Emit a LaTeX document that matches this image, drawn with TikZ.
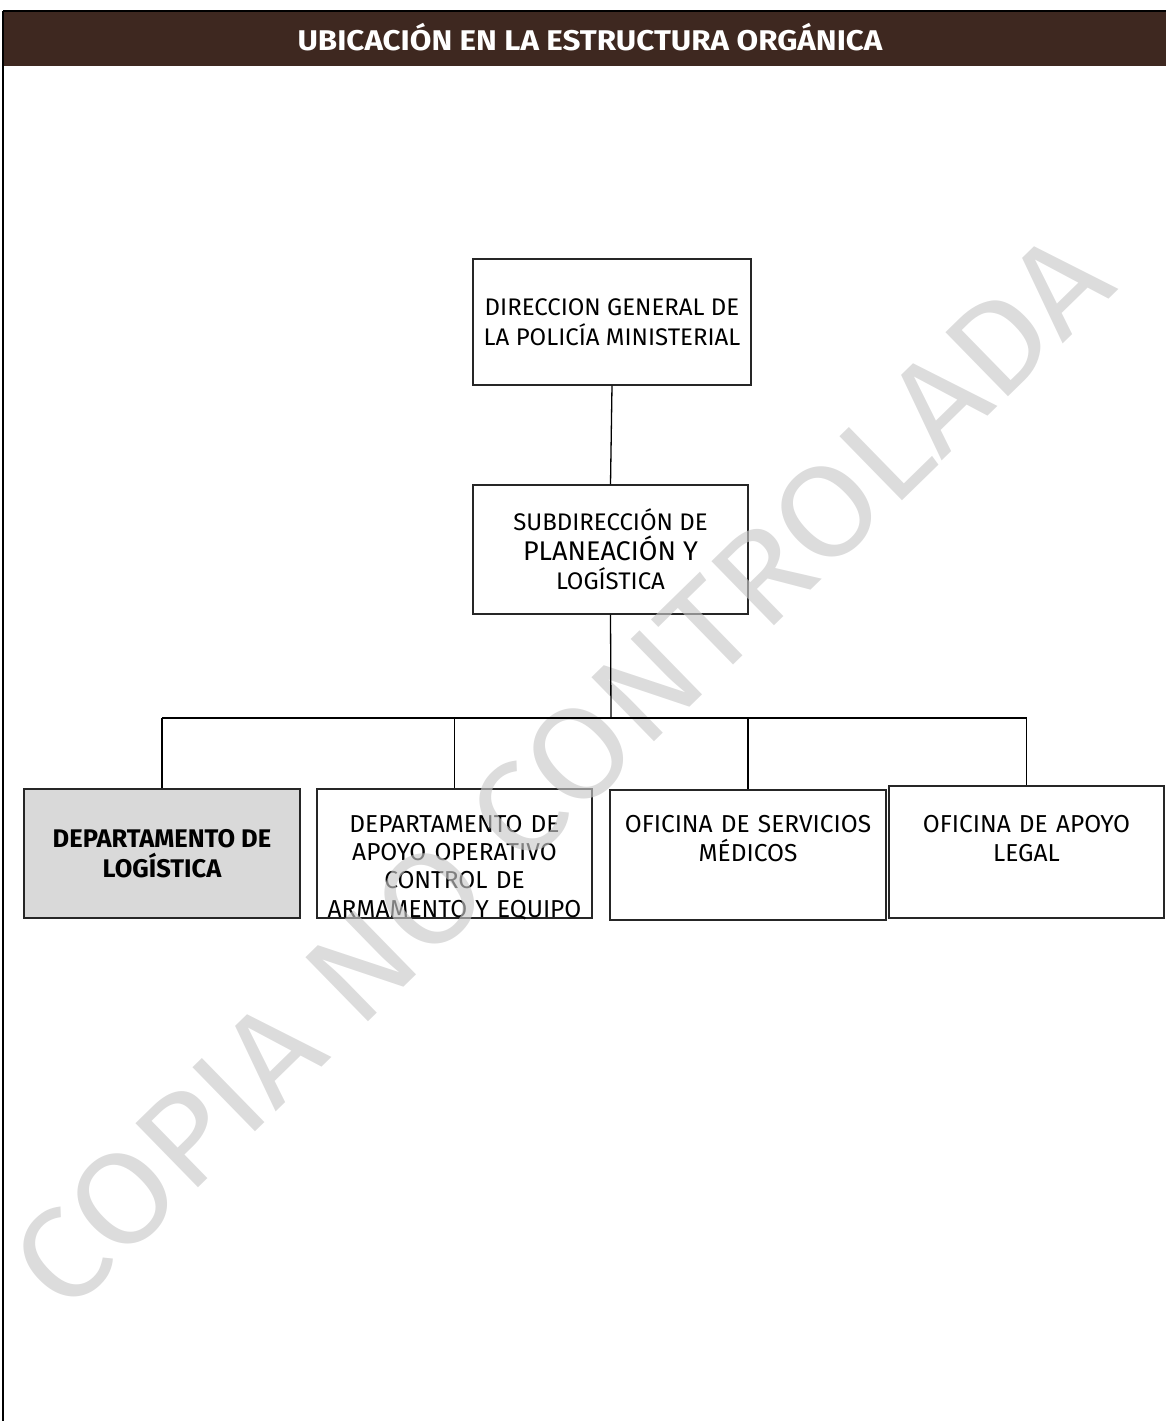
\documentclass[tikz,border=0pt]{standalone}
\usepackage{fontspec}
\setmainfont{Fira Sans}
\newfontfamily\headfont[FakeStretch=1.1]{Fira Sans}
\newfontfamily\boxfont{Fira Sans}
\newfontfamily\markfont[FakeStretch=1.07]{Fira Sans}
\definecolor{headbrown}{HTML}{3E2820}
\definecolor{deptgray}{HTML}{D9D9D9}
\definecolor{wmgray}{HTML}{C8C8C8}
\begin{document}
\begin{tikzpicture}[x=1pt,y=-1pt,
  orgbox/.style={draw=black!85, line width=1.1pt, inner sep=0pt},
  boxtext/.style={inner sep=0pt, align=center, text width=270pt,
    font=\boxfont\fontsize{24.5}{28.3}\selectfont},
  link/.style={draw=black, line width=1.3pt}]

\useasboundingbox (0,0) rectangle (1166,1421);

% title band and page frame
\fill[headbrown] (3,11) rectangle (1166,66);
\draw[line width=1.5pt] (3,11) -- (1166,11);
\draw[line width=1.5pt] (3,11) -- (3,1421);
\node[text=white, inner sep=0pt, font=\headfont\bfseries\fontsize{28.5}{30}\selectfont] (title) at (590,37)
  {UBICACIÓN EN LA ESTRUCTURA ORGÁNICA};

% upper levels
\node[orgbox, minimum width=278pt, minimum height=126pt, align=center,
  font=\boxfont\fontsize{24}{30}\selectfont] (dg) at (612,322)
  {DIRECCION GENERAL DE\\LA POLICÍA MINISTERIAL};
\node[orgbox, minimum width=275pt, minimum height=129pt, align=center,
  font=\boxfont\fontsize{24}{29.5}\selectfont] (sub) at (610.5,549.5)
  {SUBDIRECCIÓN DE\\{\fontsize{27}{29.5}\selectfont PLANEACIÓN Y}\\LOGÍSTICA};

% departments and offices
\node[orgbox, fill=deptgray, minimum width=276pt, minimum height=129pt, align=center,
  font=\boxfont\bfseries\fontsize{25.5}{30}\selectfont] (log) at (162,853.5)
  {DEPARTAMENTO DE\\LOGÍSTICA};
\node[orgbox, minimum width=275pt, minimum height=129pt] (arm) at (454.5,853.5) {};
\node[orgbox, minimum width=276pt, minimum height=130pt] (med) at (748,855) {};
\node[orgbox, minimum width=275pt, minimum height=132pt] (leg) at (1026.5,852) {};

\node[boxtext, anchor=north] (armt) at ([yshift=-26.5pt]arm.north)
  {DEPARTAMENTO DE\\APOYO OPERATIVO\\CONTROL DE\\ARMAMENTO Y EQUIPO};
\node[boxtext, anchor=north] (medt) at ([yshift=-26pt]med.north)
  {OFICINA DE SERVICIOS\\MÉDICOS};
\node[boxtext, anchor=north] (legt) at ([yshift=-30pt]leg.north)
  {OFICINA DE APOYO\\LEGAL};

% watermark
\node[rotate=44.3, text=wmgray, text opacity=0.64, inner sep=0pt,
  font=\markfont\fontsize{130}{130}\selectfont] (wm) at (561,771) {COPIA NO CONTROLADA};

% connectors
\coordinate (bus) at (611,718);
\draw[link] (dg.south) -- (sub.north);
\draw[link] (sub.south) -- (bus);
\draw[link] (log.north |- bus) -- (leg.north |- bus);
\draw[link] (log.north |- bus) -- (log.north);
\draw[link] (arm.north |- bus) -- (arm.north);
\draw[link] (med.north |- bus) -- (med.north);
\draw[link] (leg.north |- bus) -- (leg.north);
\end{tikzpicture}
\end{document}
